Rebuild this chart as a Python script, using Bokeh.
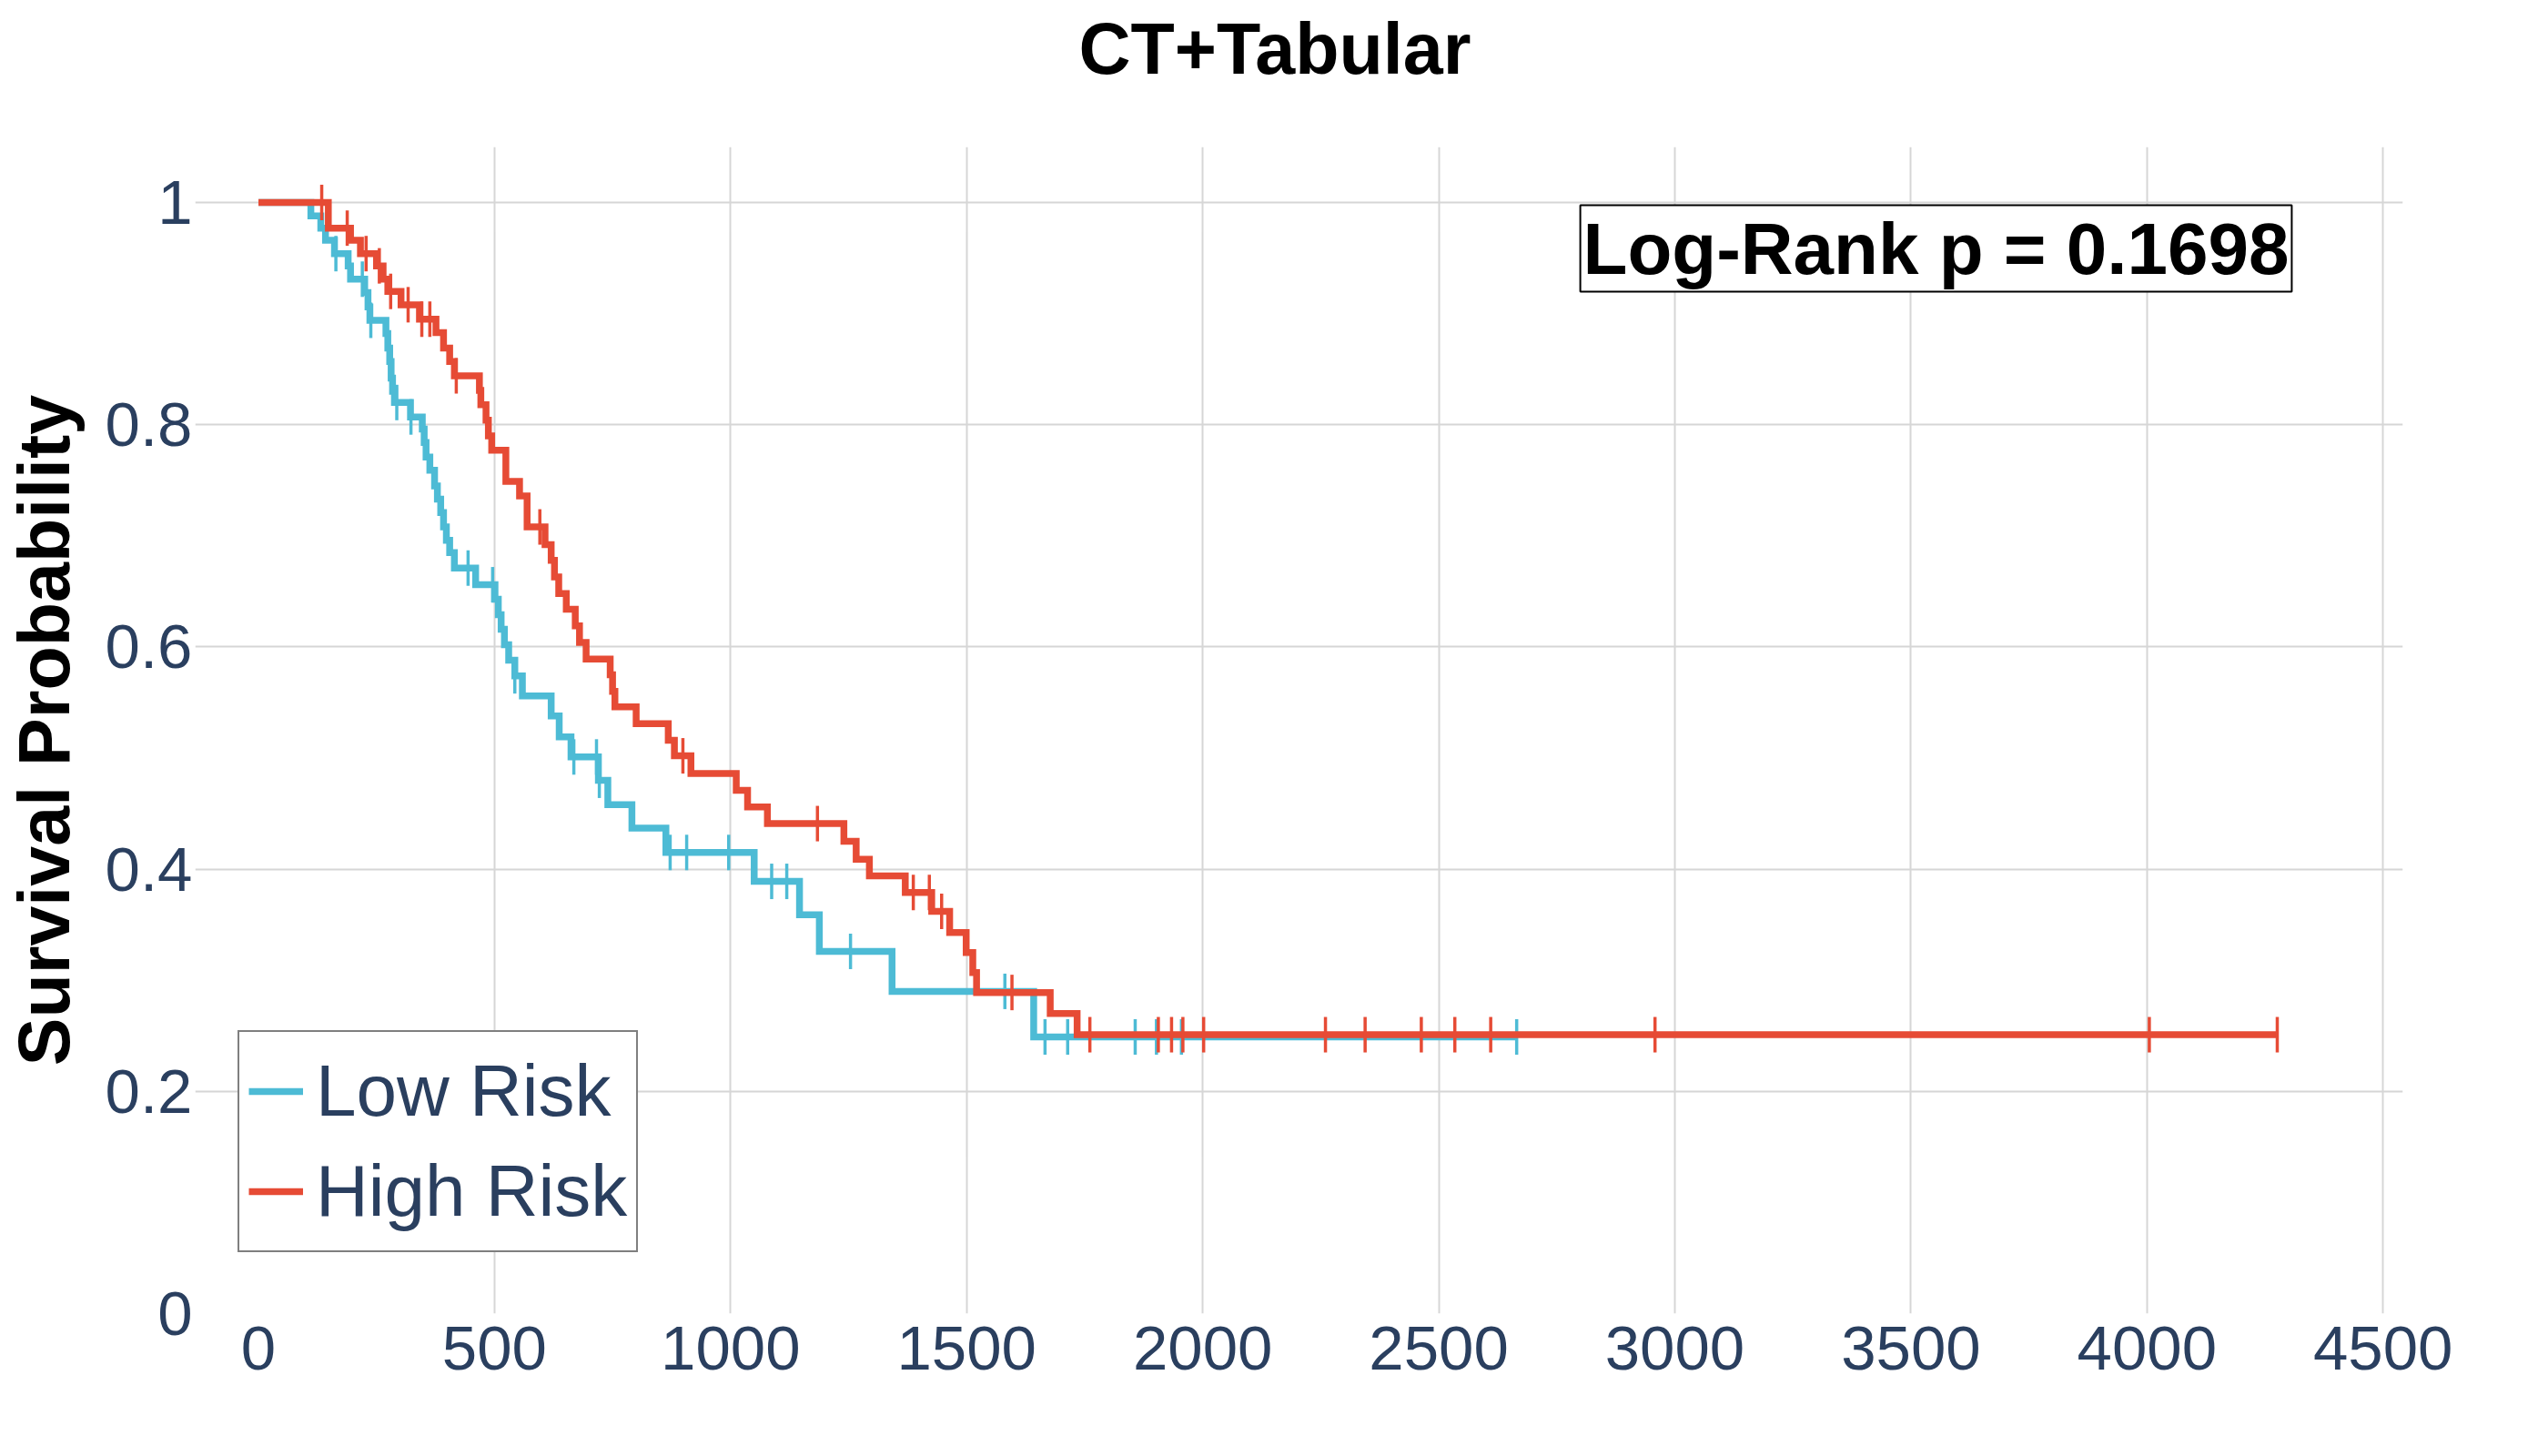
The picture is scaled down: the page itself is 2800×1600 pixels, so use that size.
import numpy as np
from bokeh.plotting import figure
from bokeh.models import Range1d, FixedTicker, Label, Legend, LegendItem, Title
from bokeh.embed import file_html
from bokeh.resources import INLINE

# ---------------- data ----------------
low_time = [0, 111, 132, 142, 161, 190, 195, 225, 232, 236, 270, 274, 278, 281, 284, 288,
            322, 347, 351, 355, 363, 373, 379, 386, 392, 398, 405, 415, 460, 501, 508, 514,
            521, 530, 543, 559, 620, 637, 662, 720, 740, 791, 863, 1050, 1146, 1188, 1342,
            1642, 2665]
low_surv = [1.0, 0.988, 0.977, 0.966, 0.954, 0.943, 0.931, 0.919, 0.906, 0.894, 0.882, 0.869,
            0.857, 0.842, 0.830, 0.820, 0.807, 0.796, 0.784, 0.771, 0.759, 0.745, 0.733, 0.721,
            0.708, 0.696, 0.685, 0.671, 0.656, 0.643, 0.629, 0.616, 0.602, 0.588, 0.574, 0.556,
            0.538, 0.519, 0.501, 0.480, 0.458, 0.437, 0.415, 0.389, 0.359, 0.326, 0.290, 0.249,
            0.249]
low_censor = [164, 220, 238, 293, 323, 444, 496, 543, 668, 716, 722, 872, 907, 996, 1087,
              1119, 1254, 1581, 1666, 1714, 1857, 1902, 1955, 2665]

high_time = [0, 148, 195, 216, 250, 264, 274, 302, 341, 376, 392, 405, 415, 468, 471, 482,
             487, 494, 524, 553, 569, 607, 620, 627, 636, 652, 671, 680, 694, 745, 750, 755,
             800, 868, 881, 916, 1012, 1036, 1078, 1240, 1266, 1294, 1370, 1426, 1464, 1499,
             1513, 1521, 1677, 1734, 4276]
high_surv = [1.0, 0.977, 0.966, 0.954, 0.943, 0.931, 0.920, 0.908, 0.895, 0.883, 0.869, 0.857,
             0.844, 0.831, 0.818, 0.804, 0.790, 0.777, 0.749, 0.736, 0.708, 0.692, 0.678, 0.663,
             0.648, 0.634, 0.619, 0.604, 0.589, 0.575, 0.560, 0.546, 0.531, 0.516, 0.502, 0.486,
             0.471, 0.456, 0.441, 0.425, 0.409, 0.394, 0.379, 0.362, 0.343, 0.325, 0.307, 0.289,
             0.270, 0.251, 0.251]
high_censor = [134, 188, 228, 256, 280, 317, 346, 363, 419, 596, 899, 1184, 1387, 1421, 1447,
               1596, 1761, 1906, 1934, 1958, 2002, 2260, 2344, 2463, 2534, 2610, 2958, 4005, 4276]

series_names = ["Low Risk", "High Risk"]
series_colors = ["#4DBBD5", "#E64B35"]
x_ticks = [0, 500, 1000, 1500, 2000, 2500, 3000, 3500, 4000, 4500]
y_ticks = [0, 0.2, 0.4, 0.6, 0.8, 1.0]
title_text = "CT+Tabular"
y_title = "Survival Probability"
pvalue_text = "Log-Rank p = 0.1698"

FONT = "Liberation Sans"
TICK_COLOR = "#2a3f5f"


def surv_at(times, surv, t):
    idx = np.searchsorted(np.asarray(times), np.asarray(t), side="right") - 1
    return list(np.asarray(surv)[idx])


p = figure(width=2784, height=1584, output_backend="svg", toolbar_location=None,
           x_range=Range1d(-134, 4542), y_range=Range1d(0, 1.05),
           min_border_left=211, min_border_right=144, min_border_top=161, min_border_bottom=141,
           title=title_text)
p.outline_line_color = None
p.background_fill_color = "white"
p.border_fill_color = "white"

p.title.align = "left"
p.title.offset = 971
p.title.vertical_align = "bottom"
p.title.standoff = 10
p.title.text_font = FONT
p.title.text_font_style = "bold"
p.title.text_font_size = "79px"
p.title.text_color = "black"
# empty spacer between title and plot area
p.add_layout(Title(text=" ", text_font_size="1px", standoff=56), "above")

for ax, ticks in ((p.xaxis[0], x_ticks), (p.yaxis[0], y_ticks)):
    ax.ticker = FixedTicker(ticks=ticks)
    ax.axis_line_color = None
    ax.major_tick_line_color = None
    ax.minor_tick_line_color = None
    ax.major_tick_out = 0
    ax.major_tick_in = 0
    ax.minor_tick_out = 0
    ax.major_label_text_font = FONT
    ax.major_label_text_font_size = "69px"
    ax.major_label_text_color = TICK_COLOR
p.xaxis[0].major_label_standoff = 14
p.yaxis[0].major_label_standoff = 3
p.yaxis[0].major_label_overrides = {0: "0", 1: "1"}

ya = p.yaxis[0]
ya.axis_label = y_title
ya.axis_label_text_font = FONT
ya.axis_label_text_font_style = "bold"
ya.axis_label_text_font_size = "79px"
ya.axis_label_text_color = "black"
ya.axis_label_standoff = 20

p.xgrid.ticker = FixedTicker(ticks=x_ticks[1:])
p.ygrid.ticker = FixedTicker(ticks=y_ticks[1:])
for g in (p.xgrid[0], p.ygrid[0]):
    g.grid_line_color = "#d6d6d6"
    g.grid_line_width = 2

renderers = []
for times, surv, cens, color in ((low_time, low_surv, low_censor, series_colors[0]),
                                 (high_time, high_surv, high_censor, series_colors[1])):
    r = p.step(times, surv, mode="after", line_color=color, line_width=7.5, line_join="miter")
    p.scatter(cens, surv_at(times, surv, cens), marker="dash", angle=np.pi / 2, size=39,
              line_color=color, line_width=3.5)
    renderers.append(r)

legend = Legend(items=[LegendItem(label=series_names[0], renderers=[renderers[0]]),
                       LegendItem(label=series_names[1], renderers=[renderers[1]])],
                location=(47, 67), border_line_color="black", border_line_width=2,
                background_fill_color="white", background_fill_alpha=1.0,
                label_text_font=FONT, label_text_font_size="80px", label_text_color=TICK_COLOR,
                glyph_width=60, glyph_height=110, label_height=110, spacing=0, padding=10,
                margin=0, label_standoff=14)
p.add_layout(legend)

p.add_layout(Label(x=1913, y=1170.5, x_units="screen", y_units="screen", text=pvalue_text,
                   text_align="center", text_baseline="middle", text_font=FONT,
                   text_font_style="bold", text_font_size="80px", text_color="black",
                   border_line_color="black", border_line_width=2,
                   background_fill_color="white", padding=3))

open("out.html", "w").write(file_html(p, INLINE))
